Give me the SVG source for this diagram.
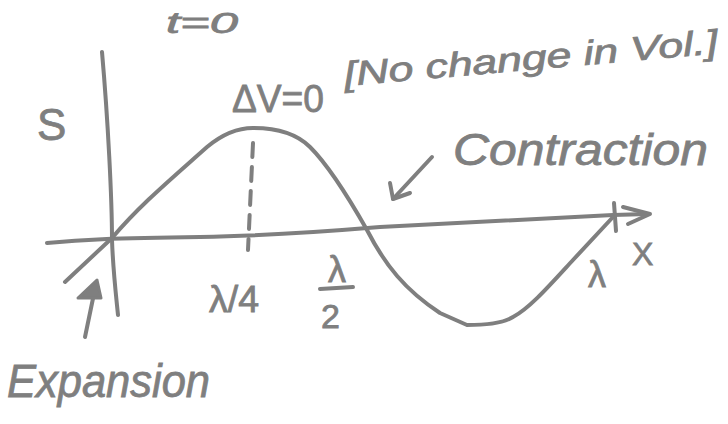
<svg xmlns="http://www.w3.org/2000/svg" width="728" height="424" viewBox="0 0 728 424">
<style>
.ln{fill:none;stroke:#7f7f7f;stroke-width:4;stroke-linecap:round;stroke-linejoin:round}
.t{fill:#7f7f7f;stroke:#7f7f7f;stroke-width:0.8;font-family:"Liberation Sans","DejaVu Sans",sans-serif}
</style>
<rect width="728" height="424" fill="#ffffff"/>
<g id="axes">
<path class="ln" d="M102,52 C108,120 112,200 112,240 C113,270 116,295 118,315"/>
<path class="ln" d="M47,243 C80,240 110,238 200,237 C260,236 320,232 380,227 L613,215 L648,214"/>
<polyline class="ln" points="623,207 650,214 628,224"/>
<path class="ln" d="M614,203 L616,231" stroke-width="3"/>
</g>
<g id="wave">
<path class="ln" d="M65,282 L112,238 C140,205 170,180 207,147 C225,132 240,128 253,128 C275,128 295,132 310,147 C330,167 350,200 367,230 C385,265 405,290 440,313 L467,325 C490,325 505,322 513,317 C530,308 550,285 573,260 L613,217"/>
<path class="ln" d="M253,143 L248,250" stroke-width="2.5" stroke-dasharray="14 10"/>
</g>
<g id="arrows">
<path class="ln" d="M432,157 L393,199"/>
<polyline class="ln" points="390,183 393,199 410,193"/>
<path class="ln" d="M85,337 L96,284"/>
<polygon points="78,298 97,280 101,298" fill="#7f7f7f" stroke="#7f7f7f" stroke-width="3" stroke-linejoin="round"/>
</g>
<g id="labels">
<text class="t" x="166" y="33" font-size="30" font-style="italic" textLength="72" lengthAdjust="spacingAndGlyphs">t=0</text>
<text class="t" x="37" y="140" font-size="44">S</text>
<text class="t" x="232" y="112" font-size="38" textLength="92" lengthAdjust="spacingAndGlyphs">ΔV=0</text>
<text class="t" x="345" y="86" font-size="34" font-style="italic" transform="rotate(-5 345 86)" textLength="375" lengthAdjust="spacingAndGlyphs">[No change in Vol.]</text>
<text class="t" x="453" y="165" font-size="44" font-style="italic" textLength="255" lengthAdjust="spacingAndGlyphs">Contraction</text>
<text class="t" x="209" y="312" font-size="36" textLength="50" lengthAdjust="spacingAndGlyphs">λ/4</text>
<text class="t" x="328" y="282" font-size="36">λ</text>
<path class="ln" d="M320,289 L353,287"/>
<text class="t" x="321" y="328" font-size="34">2</text>
<text class="t" x="632" y="265" font-size="32">X</text>
<text class="t" x="588" y="287" font-size="36">λ</text>
<text class="t" x="7" y="397" font-size="46" font-style="italic" textLength="203" lengthAdjust="spacingAndGlyphs">Expansion</text>
</g>
</svg>
